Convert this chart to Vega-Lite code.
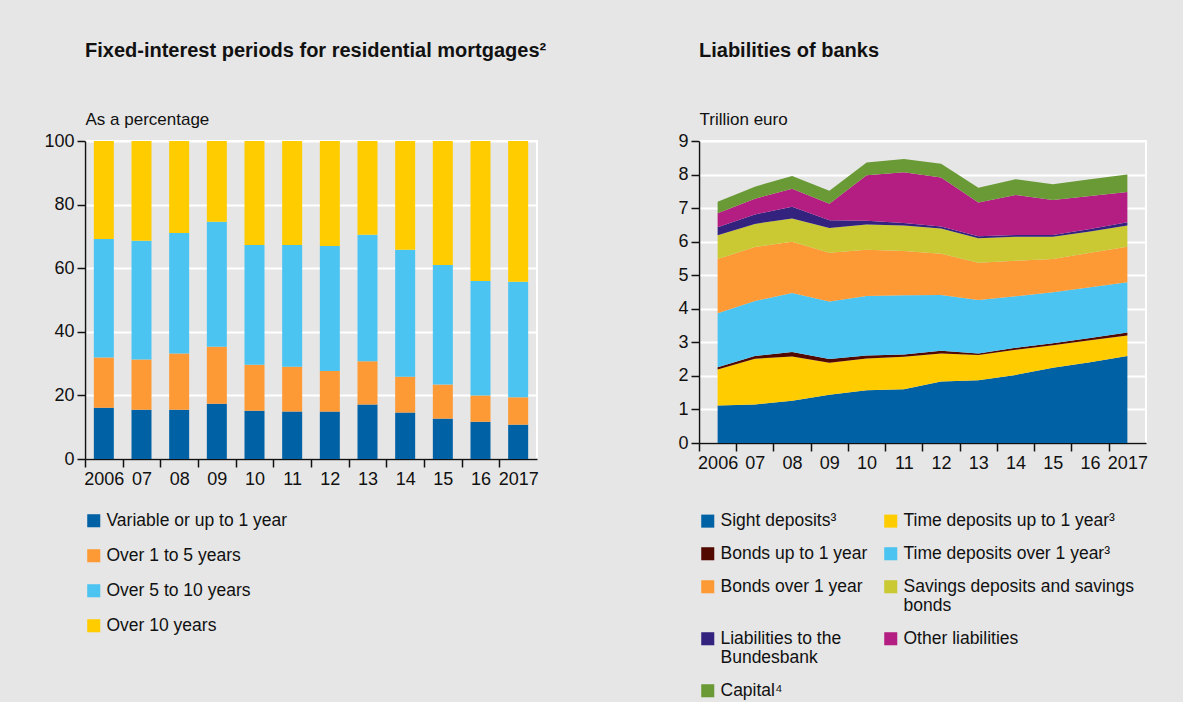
{
  "$schema": "https://vega.github.io/schema/vega-lite/v6.json",
  "background": "#e6e6e6",
  "padding": {"left": 42, "top": 40, "right": 37, "bottom": 4},
  "spacing": 128,
  "resolve": {"scale": {"color": "independent"}, "legend": {"color": "independent"}},
  "config": {
    "font": "Liberation Sans",
    "view": {"stroke": "white", "strokeWidth": 2},
    "axis": {
      "labelFontSize": 18, "labelColor": "#111", "labelPadding": 3,
      "domainColor": "#111", "domainWidth": 1.5,
      "tickColor": "#111", "tickWidth": 1.5, "tickSize": 8,
      "gridColor": "white", "gridWidth": 2,
      "titleFontSize": 17, "titleFontWeight": "normal", "titleColor": "#111"
    },
    "title": {"fontSize": 20, "fontWeight": "bold", "anchor": "start", "frame": "group", "color": "#111", "offset": 49},
    "legend": {
      "labelFontSize": 17.5, "labelColor": "#111", "symbolType": "square", "symbolSize": 170,
      "symbolStrokeWidth": 0, "rowPadding": 16, "labelLimit": 400
    }
  },
  "datasets": {
    "mort": [
      {"year": "2006", "period": "Variable or up to 1 year", "value": 16.1},
      {"year": "2006", "period": "Over 1 to 5 years", "value": 15.8},
      {"year": "2006", "period": "Over 5 to 10 years", "value": 37.3},
      {"year": "2006", "period": "Over 10 years", "value": 30.8},
      {"year": "2007", "period": "Variable or up to 1 year", "value": 15.5},
      {"year": "2007", "period": "Over 1 to 5 years", "value": 15.8},
      {"year": "2007", "period": "Over 5 to 10 years", "value": 37.3},
      {"year": "2007", "period": "Over 10 years", "value": 31.4},
      {"year": "2008", "period": "Variable or up to 1 year", "value": 15.5},
      {"year": "2008", "period": "Over 1 to 5 years", "value": 17.7},
      {"year": "2008", "period": "Over 5 to 10 years", "value": 37.9},
      {"year": "2008", "period": "Over 10 years", "value": 28.9},
      {"year": "2009", "period": "Variable or up to 1 year", "value": 17.4},
      {"year": "2009", "period": "Over 1 to 5 years", "value": 17.9},
      {"year": "2009", "period": "Over 5 to 10 years", "value": 39.3},
      {"year": "2009", "period": "Over 10 years", "value": 25.4},
      {"year": "2010", "period": "Variable or up to 1 year", "value": 15.2},
      {"year": "2010", "period": "Over 1 to 5 years", "value": 14.4},
      {"year": "2010", "period": "Over 5 to 10 years", "value": 37.7},
      {"year": "2010", "period": "Over 10 years", "value": 32.7},
      {"year": "2011", "period": "Variable or up to 1 year", "value": 14.9},
      {"year": "2011", "period": "Over 1 to 5 years", "value": 14.1},
      {"year": "2011", "period": "Over 5 to 10 years", "value": 38.3},
      {"year": "2011", "period": "Over 10 years", "value": 32.7},
      {"year": "2012", "period": "Variable or up to 1 year", "value": 14.9},
      {"year": "2012", "period": "Over 1 to 5 years", "value": 12.8},
      {"year": "2012", "period": "Over 5 to 10 years", "value": 39.3},
      {"year": "2012", "period": "Over 10 years", "value": 33.0},
      {"year": "2013", "period": "Variable or up to 1 year", "value": 17.1},
      {"year": "2013", "period": "Over 1 to 5 years", "value": 13.6},
      {"year": "2013", "period": "Over 5 to 10 years", "value": 39.8},
      {"year": "2013", "period": "Over 10 years", "value": 29.5},
      {"year": "2014", "period": "Variable or up to 1 year", "value": 14.6},
      {"year": "2014", "period": "Over 1 to 5 years", "value": 11.3},
      {"year": "2014", "period": "Over 5 to 10 years", "value": 39.9},
      {"year": "2014", "period": "Over 10 years", "value": 34.2},
      {"year": "2015", "period": "Variable or up to 1 year", "value": 12.7},
      {"year": "2015", "period": "Over 1 to 5 years", "value": 10.7},
      {"year": "2015", "period": "Over 5 to 10 years", "value": 37.6},
      {"year": "2015", "period": "Over 10 years", "value": 39.0},
      {"year": "2016", "period": "Variable or up to 1 year", "value": 11.7},
      {"year": "2016", "period": "Over 1 to 5 years", "value": 8.3},
      {"year": "2016", "period": "Over 5 to 10 years", "value": 36.0},
      {"year": "2016", "period": "Over 10 years", "value": 44.0},
      {"year": "2017", "period": "Variable or up to 1 year", "value": 10.8},
      {"year": "2017", "period": "Over 1 to 5 years", "value": 8.6},
      {"year": "2017", "period": "Over 5 to 10 years", "value": 36.3},
      {"year": "2017", "period": "Over 10 years", "value": 44.3}
    ],
    "liab": [
      {"year": "2006", "c": "Sight deposits³", "v": 1.12},
      {"year": "2006", "c": "Time deposits up to 1 year³", "v": 1.07},
      {"year": "2006", "c": "Bonds up to 1 year", "v": 0.07},
      {"year": "2006", "c": "Time deposits over 1 year³", "v": 1.61},
      {"year": "2006", "c": "Bonds over 1 year", "v": 1.61},
      {"year": "2006", "c": "Savings deposits and savings bonds", "v": 0.71},
      {"year": "2006", "c": "Liabilities to the Bundesbank", "v": 0.24},
      {"year": "2006", "c": "Other liabilities", "v": 0.42},
      {"year": "2006", "c": "Capital⁴", "v": 0.34},
      {"year": "2007", "c": "Sight deposits³", "v": 1.15},
      {"year": "2007", "c": "Time deposits up to 1 year³", "v": 1.36},
      {"year": "2007", "c": "Bonds up to 1 year", "v": 0.08},
      {"year": "2007", "c": "Time deposits over 1 year³", "v": 1.64},
      {"year": "2007", "c": "Bonds over 1 year", "v": 1.61},
      {"year": "2007", "c": "Savings deposits and savings bonds", "v": 0.69},
      {"year": "2007", "c": "Liabilities to the Bundesbank", "v": 0.28},
      {"year": "2007", "c": "Other liabilities", "v": 0.47},
      {"year": "2007", "c": "Capital⁴", "v": 0.36},
      {"year": "2008", "c": "Sight deposits³", "v": 1.26},
      {"year": "2008", "c": "Time deposits up to 1 year³", "v": 1.32},
      {"year": "2008", "c": "Bonds up to 1 year", "v": 0.13},
      {"year": "2008", "c": "Time deposits over 1 year³", "v": 1.76},
      {"year": "2008", "c": "Bonds over 1 year", "v": 1.53},
      {"year": "2008", "c": "Savings deposits and savings bonds", "v": 0.69},
      {"year": "2008", "c": "Liabilities to the Bundesbank", "v": 0.35},
      {"year": "2008", "c": "Other liabilities", "v": 0.54},
      {"year": "2008", "c": "Capital⁴", "v": 0.38},
      {"year": "2009", "c": "Sight deposits³", "v": 1.44},
      {"year": "2009", "c": "Time deposits up to 1 year³", "v": 0.95},
      {"year": "2009", "c": "Bonds up to 1 year", "v": 0.11},
      {"year": "2009", "c": "Time deposits over 1 year³", "v": 1.72},
      {"year": "2009", "c": "Bonds over 1 year", "v": 1.45},
      {"year": "2009", "c": "Savings deposits and savings bonds", "v": 0.74},
      {"year": "2009", "c": "Liabilities to the Bundesbank", "v": 0.23},
      {"year": "2009", "c": "Other liabilities", "v": 0.49},
      {"year": "2009", "c": "Capital⁴", "v": 0.39},
      {"year": "2010", "c": "Sight deposits³", "v": 1.57},
      {"year": "2010", "c": "Time deposits up to 1 year³", "v": 0.95},
      {"year": "2010", "c": "Bonds up to 1 year", "v": 0.09},
      {"year": "2010", "c": "Time deposits over 1 year³", "v": 1.77},
      {"year": "2010", "c": "Bonds over 1 year", "v": 1.38},
      {"year": "2010", "c": "Savings deposits and savings bonds", "v": 0.75},
      {"year": "2010", "c": "Liabilities to the Bundesbank", "v": 0.11},
      {"year": "2010", "c": "Other liabilities", "v": 1.36},
      {"year": "2010", "c": "Capital⁴", "v": 0.38},
      {"year": "2011", "c": "Sight deposits³", "v": 1.60},
      {"year": "2011", "c": "Time deposits up to 1 year³", "v": 0.97},
      {"year": "2011", "c": "Bonds up to 1 year", "v": 0.07},
      {"year": "2011", "c": "Time deposits over 1 year³", "v": 1.76},
      {"year": "2011", "c": "Bonds over 1 year", "v": 1.32},
      {"year": "2011", "c": "Savings deposits and savings bonds", "v": 0.76},
      {"year": "2011", "c": "Liabilities to the Bundesbank", "v": 0.08},
      {"year": "2011", "c": "Other liabilities", "v": 1.51},
      {"year": "2011", "c": "Capital⁴", "v": 0.39},
      {"year": "2012", "c": "Sight deposits³", "v": 1.83},
      {"year": "2012", "c": "Time deposits up to 1 year³", "v": 0.84},
      {"year": "2012", "c": "Bonds up to 1 year", "v": 0.08},
      {"year": "2012", "c": "Time deposits over 1 year³", "v": 1.66},
      {"year": "2012", "c": "Bonds over 1 year", "v": 1.23},
      {"year": "2012", "c": "Savings deposits and savings bonds", "v": 0.75},
      {"year": "2012", "c": "Liabilities to the Bundesbank", "v": 0.06},
      {"year": "2012", "c": "Other liabilities", "v": 1.46},
      {"year": "2012", "c": "Capital⁴", "v": 0.41},
      {"year": "2013", "c": "Sight deposits³", "v": 1.87},
      {"year": "2013", "c": "Time deposits up to 1 year³", "v": 0.75},
      {"year": "2013", "c": "Bonds up to 1 year", "v": 0.05},
      {"year": "2013", "c": "Time deposits over 1 year³", "v": 1.59},
      {"year": "2013", "c": "Bonds over 1 year", "v": 1.11},
      {"year": "2013", "c": "Savings deposits and savings bonds", "v": 0.73},
      {"year": "2013", "c": "Liabilities to the Bundesbank", "v": 0.06},
      {"year": "2013", "c": "Other liabilities", "v": 1.01},
      {"year": "2013", "c": "Capital⁴", "v": 0.44},
      {"year": "2014", "c": "Sight deposits³", "v": 2.03},
      {"year": "2014", "c": "Time deposits up to 1 year³", "v": 0.75},
      {"year": "2014", "c": "Bonds up to 1 year", "v": 0.06},
      {"year": "2014", "c": "Time deposits over 1 year³", "v": 1.53},
      {"year": "2014", "c": "Bonds over 1 year", "v": 1.06},
      {"year": "2014", "c": "Savings deposits and savings bonds", "v": 0.72},
      {"year": "2014", "c": "Liabilities to the Bundesbank", "v": 0.05},
      {"year": "2014", "c": "Other liabilities", "v": 1.19},
      {"year": "2014", "c": "Capital⁴", "v": 0.47},
      {"year": "2015", "c": "Sight deposits³", "v": 2.24},
      {"year": "2015", "c": "Time deposits up to 1 year³", "v": 0.67},
      {"year": "2015", "c": "Bonds up to 1 year", "v": 0.06},
      {"year": "2015", "c": "Time deposits over 1 year³", "v": 1.52},
      {"year": "2015", "c": "Bonds over 1 year", "v": 0.99},
      {"year": "2015", "c": "Savings deposits and savings bonds", "v": 0.67},
      {"year": "2015", "c": "Liabilities to the Bundesbank", "v": 0.05},
      {"year": "2015", "c": "Other liabilities", "v": 1.04},
      {"year": "2015", "c": "Capital⁴", "v": 0.47},
      {"year": "2016", "c": "Sight deposits³", "v": 2.41},
      {"year": "2016", "c": "Time deposits up to 1 year³", "v": 0.65},
      {"year": "2016", "c": "Bonds up to 1 year", "v": 0.07},
      {"year": "2016", "c": "Time deposits over 1 year³", "v": 1.51},
      {"year": "2016", "c": "Bonds over 1 year", "v": 1.03},
      {"year": "2016", "c": "Savings deposits and savings bonds", "v": 0.63},
      {"year": "2016", "c": "Liabilities to the Bundesbank", "v": 0.08},
      {"year": "2016", "c": "Other liabilities", "v": 0.98},
      {"year": "2016", "c": "Capital⁴", "v": 0.50},
      {"year": "2017", "c": "Sight deposits³", "v": 2.59},
      {"year": "2017", "c": "Time deposits up to 1 year³", "v": 0.61},
      {"year": "2017", "c": "Bonds up to 1 year", "v": 0.09},
      {"year": "2017", "c": "Time deposits over 1 year³", "v": 1.50},
      {"year": "2017", "c": "Bonds over 1 year", "v": 1.06},
      {"year": "2017", "c": "Savings deposits and savings bonds", "v": 0.63},
      {"year": "2017", "c": "Liabilities to the Bundesbank", "v": 0.10},
      {"year": "2017", "c": "Other liabilities", "v": 0.90},
      {"year": "2017", "c": "Capital⁴", "v": 0.52}
    ]
  },
  "hconcat": [
    {
      "width": 452,
      "height": 318,
      "title": {"text": "Fixed-interest periods for residential mortgages²"},
      "data": {"name": "mort"},
      "transform": [
        {"calculate": "indexof(['Variable or up to 1 year','Over 1 to 5 years','Over 5 to 10 years','Over 10 years'], datum.period)", "as": "k"}
      ],
      "mark": {"type": "bar", "width": 20},
      "encoding": {
        "x": {
          "field": "year", "type": "ordinal",
          "scale": {"paddingInner": 0, "paddingOuter": 0},
          "axis": {
            "title": null, "labelAngle": 0, "grid": false,
            "tickOffset": -18.83, "labelOffset": 18.83,
            "labelExpr": "datum.value == '2006' || datum.value == '2017' ? datum.value : slice(datum.value, 2)"
          }
        },
        "y": {
          "field": "value", "type": "quantitative", "stack": "zero",
          "scale": {"domain": [0, 100], "nice": false},
          "axis": {
            "title": "As a percentage", "values": [0, 20, 40, 60, 80, 100],
            "titleAngle": 0, "titleX": 0, "titleY": -17, "titleAlign": "left", "titleBaseline": "alphabetic"
          }
        },
        "color": {
          "field": "period", "type": "nominal",
          "scale": {
            "domain": ["Variable or up to 1 year", "Over 1 to 5 years", "Over 5 to 10 years", "Over 10 years"],
            "range": ["#0061a5", "#fd9a35", "#4cc4f1", "#ffcc00"]
          },
          "legend": {"title": null, "orient": "bottom", "direction": "vertical", "offset": 24}
        },
        "order": {"field": "k", "type": "quantitative", "sort": "ascending"}
      }
    },
    {
      "width": 447,
      "height": 302,
      "title": {"text": "Liabilities of banks"},
      "data": {"name": "liab"},
      "transform": [
        {"calculate": "indexof(['Sight deposits³','Time deposits up to 1 year³','Bonds up to 1 year','Time deposits over 1 year³','Bonds over 1 year','Savings deposits and savings bonds','Liabilities to the Bundesbank','Other liabilities','Capital⁴'], datum.c)", "as": "k"}
      ],
      "mark": {"type": "area", "interpolate": "linear"},
      "encoding": {
        "x": {
          "field": "year", "type": "ordinal", "bandPosition": 0.5,
          "scale": {"type": "band", "paddingInner": 0, "paddingOuter": 0},
          "axis": {
            "title": null, "labelAngle": 0, "grid": false,
            "tickOffset": -18.63, "labelOffset": 18.63,
            "labelExpr": "datum.value == '2006' || datum.value == '2017' ? datum.value : slice(datum.value, 2)"
          }
        },
        "y": {
          "field": "v", "type": "quantitative", "stack": "zero",
          "scale": {"domain": [0, 9], "nice": false},
          "axis": {
            "title": "Trillion euro", "values": [0, 1, 2, 3, 4, 5, 6, 7, 8, 9],
            "titleAngle": 0, "titleX": 0, "titleY": -17, "titleAlign": "left", "titleBaseline": "alphabetic"
          }
        },
        "color": {
          "field": "c", "type": "nominal",
          "scale": {
            "domain": ["Sight deposits³", "Time deposits up to 1 year³", "Bonds up to 1 year", "Time deposits over 1 year³", "Bonds over 1 year", "Savings deposits and savings bonds", "Liabilities to the Bundesbank", "Other liabilities", "Capital⁴"],
            "range": ["#0061a5", "#ffcc00", "#520a00", "#4cc4f1", "#fd9a35", "#cbc933", "#33237f", "#b41e82", "#6a9a35"]
          },
          "legend": {
            "title": null, "orient": "bottom", "direction": "horizontal", "columns": 2, "offset": 40,
            "columnPadding": 14, "rowPadding": 14,
            "labelExpr": "datum.label == 'Savings deposits and savings bonds' ? ['Savings deposits and savings', 'bonds'] : datum.label == 'Liabilities to the Bundesbank' ? ['Liabilities to the', 'Bundesbank'] : datum.label"
          }
        },
        "order": {"field": "k", "type": "quantitative", "sort": "ascending"}
      }
    }
  ]
}
